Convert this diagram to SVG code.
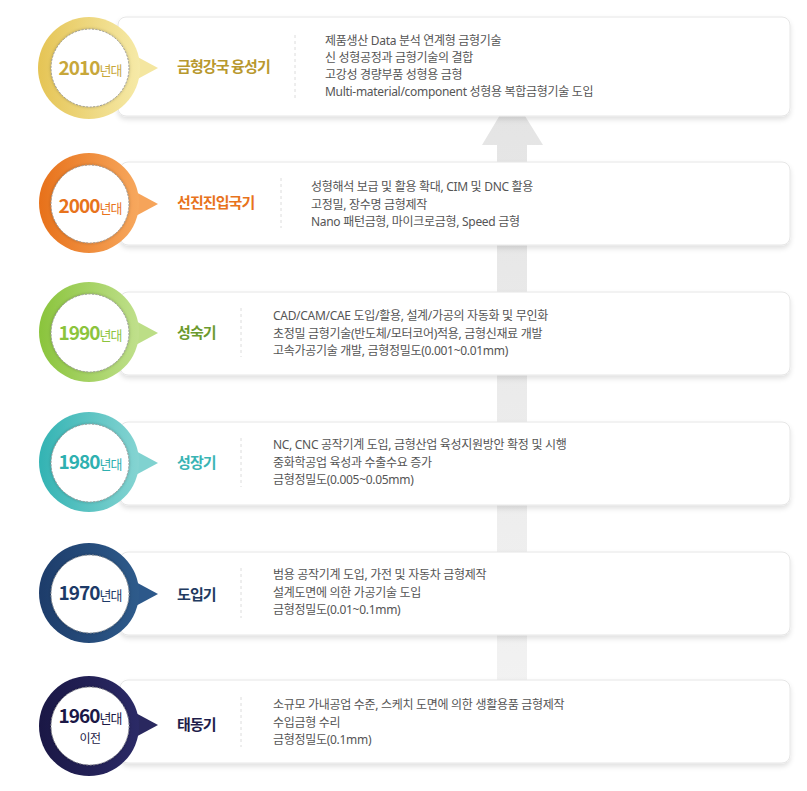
<svg xmlns="http://www.w3.org/2000/svg" width="807" height="791" viewBox="0 0 807 791">
<defs>
<style>
.card{fill:#fff;stroke:#e6e6e6;stroke-width:1;filter:url(#sh)}
.inner{fill:#fff;stroke:#9a9a9a;stroke-width:1;stroke-dasharray:2 1.5;filter:url(#ish)}
.yr{font-family:"Noto Sans CJK KR","Noto Sans",sans-serif;font-weight:700;font-size:19px;letter-spacing:-1px}
.yr .s{font-size:13px;font-weight:400;letter-spacing:-1px}
.ttl{font-family:"Noto Sans CJK KR",sans-serif;font-weight:700;font-size:15px;letter-spacing:-0.9px}
.desc{font-family:"Noto Sans","Noto Sans CJK KR",sans-serif;font-size:12px;fill:#555;letter-spacing:-0.3px}
.div{stroke:#dcdcdc;stroke-width:1;stroke-dasharray:3 3}
</style>
<filter id="sh" x="-5%" y="-20%" width="110%" height="150%"><feDropShadow dx="0" dy="3" stdDeviation="2.5" flood-color="#000" flood-opacity="0.12"/></filter>
<filter id="ish" x="-20%" y="-20%" width="140%" height="140%"><feDropShadow dx="0" dy="0" stdDeviation="1.5" flood-color="#000" flood-opacity="0.25"/></filter>
<linearGradient id="g1" x1="0" y1="0" x2="1" y2="0"><stop offset="0" stop-color="#e5c455"/><stop offset="1" stop-color="#f6eaa8"/></linearGradient>
<linearGradient id="g2" x1="0" y1="0" x2="1" y2="0"><stop offset="0" stop-color="#e7711a"/><stop offset="1" stop-color="#f7a85e"/></linearGradient>
<linearGradient id="g3" x1="0" y1="0" x2="1" y2="0"><stop offset="0" stop-color="#8ac43c"/><stop offset="1" stop-color="#c0e08c"/></linearGradient>
<linearGradient id="g4" x1="0" y1="0" x2="1" y2="0"><stop offset="0" stop-color="#33b3b3"/><stop offset="1" stop-color="#85d4d2"/></linearGradient>
<linearGradient id="g5" x1="0" y1="0" x2="1" y2="0"><stop offset="0" stop-color="#1d3c6a"/><stop offset="1" stop-color="#2e5b8b"/></linearGradient>
<linearGradient id="g6" x1="0" y1="0" x2="1" y2="0"><stop offset="0" stop-color="#1a1745"/><stop offset="1" stop-color="#2b2a66"/></linearGradient>
<linearGradient id="ga" x1="0" y1="0" x2="0" y2="1"><stop offset="0" stop-color="#e4e4e4"/><stop offset="1" stop-color="#f2f2f2"/></linearGradient>
</defs>
<rect width="807" height="791" fill="#fff"/>
<g id="connectors">
<path d="M512 95 L543 145 L527 145 L527 700 L497 700 L497 145 L482 145 Z" fill="url(#ga)"/>
</g>
<g id="n2010">
<rect class="card" x="118" y="17" width="672" height="99" rx="8"/>
<path d="M132 54 L158 68 L132 82 Z" fill="#f4e6a0"/>
<circle cx="89" cy="68" r="51" fill="url(#g1)"/>
<circle class="inner" cx="90" cy="68" r="39"/>
<text class="yr" x="90" y="75" text-anchor="middle" fill="#c8a73a">2010<tspan class="s">년대</tspan></text>
<text class="ttl" x="177" y="72" fill="#b8982e">금형강국 융성기</text>
<line class="div" x1="295" y1="35" x2="295" y2="98"/>
<text class="desc" x="325" y="44.5">제품생산 Data 분석 연계형 금형기술</text>
<text class="desc" x="325" y="61.5">신 성형공정과 금형기술의 결합</text>
<text class="desc" x="325" y="78.5">고강성 경량부품 성형용 금형</text>
<text class="desc" x="325" y="95.5">Multi-material/component 성형용 복합금형기술 도입</text>
</g>
<g id="n2000">
<rect class="card" x="120" y="162" width="670" height="83" rx="8"/>
<path d="M132 190 L158 204 L132 218 Z" fill="#f6a45a"/>
<circle cx="89" cy="203" r="50" fill="url(#g2)"/>
<circle class="inner" cx="90" cy="204" r="39"/>
<text class="yr" x="90" y="213" text-anchor="middle" fill="#e8731c">2000<tspan class="s">년대</tspan></text>
<text class="ttl" x="177" y="208" fill="#e8731c">선진진입국기</text>
<line class="div" x1="281" y1="178" x2="281" y2="228"/>
<text class="desc" x="311" y="191">성형해석 보급 및 활용 확대, CIM 및 DNC 활용</text>
<text class="desc" x="311" y="208.5">고정밀, 장수명 금형제작</text>
<text class="desc" x="311" y="226">Nano 패턴금형, 마이크로금형, Speed 금형</text>
</g>
<g id="n1990">
<rect class="card" x="120" y="292" width="670" height="83" rx="8"/>
<path d="M132 319 L158 333 L132 347 Z" fill="#bcde86"/>
<circle cx="89" cy="332" r="50" fill="url(#g3)"/>
<circle class="inner" cx="90" cy="333" r="39"/>
<text class="yr" x="90" y="340" text-anchor="middle" fill="#8cc43c">1990<tspan class="s">년대</tspan></text>
<text class="ttl" x="177" y="338" fill="#6c9a2e">성숙기</text>
<line class="div" x1="241" y1="308" x2="241" y2="357"/>
<text class="desc" x="273" y="320">CAD/CAM/CAE 도입/활용, 설계/가공의 자동화 및 무인화</text>
<text class="desc" x="273" y="337.5">초정밀 금형기술(반도체/모터코어)적용, 금형신재료 개발</text>
<text class="desc" x="273" y="355">고속가공기술 개발, 금형정밀도(0.001~0.01mm)</text>
</g>
<g id="n1980">
<rect class="card" x="120" y="422" width="670" height="83" rx="8"/>
<path d="M132 449 L158 463 L132 477 Z" fill="#80d2d0"/>
<circle cx="89" cy="462" r="50" fill="url(#g4)"/>
<circle class="inner" cx="90" cy="463" r="39"/>
<text class="yr" x="90" y="469" text-anchor="middle" fill="#2eb0b0">1980<tspan class="s">년대</tspan></text>
<text class="ttl" x="177" y="468" fill="#3ab4b4">성장기</text>
<line class="div" x1="241" y1="438" x2="241" y2="487"/>
<text class="desc" x="273" y="449">NC, CNC 공작기계 도입, 금형산업 육성지원방안 확정 및 시행</text>
<text class="desc" x="273" y="466.5">중화학공업 육성과 수출수요 증가</text>
<text class="desc" x="273" y="484">금형정밀도(0.005~0.05mm)</text>
</g>
<g id="n1970">
<rect class="card" x="120" y="552" width="670" height="83" rx="8"/>
<path d="M132 580 L158 594 L132 608 Z" fill="#2c588a"/>
<circle cx="89" cy="593" r="50" fill="url(#g5)"/>
<circle class="inner" cx="90" cy="594" r="39"/>
<text class="yr" x="90" y="600" text-anchor="middle" fill="#1d3a68">1970<tspan class="s">년대</tspan></text>
<text class="ttl" x="177" y="600" fill="#213a60">도입기</text>
<line class="div" x1="241" y1="568" x2="241" y2="618"/>
<text class="desc" x="273" y="579">범용 공작기계 도입, 가전 및 자동차 금형제작</text>
<text class="desc" x="273" y="596.5">설계도면에 의한 가공기술 도입</text>
<text class="desc" x="273" y="614">금형정밀도(0.01~0.1mm)</text>
</g>
<g id="n1960">
<rect class="card" x="120" y="680" width="670" height="83" rx="8"/>
<path d="M132 711 L158 725 L132 739 Z" fill="#29285f"/>
<circle cx="89" cy="726" r="50" fill="url(#g6)"/>
<circle class="inner" cx="90" cy="726" r="39"/>
<text class="yr" x="90" y="723" text-anchor="middle" fill="#1b1846">1960<tspan class="s">년대</tspan></text>
<text x="90" y="743" text-anchor="middle" font-family="Noto Sans CJK KR,sans-serif" font-size="12" letter-spacing="-0.5" fill="#1b1846">이전</text>
<text class="ttl" x="177" y="730" fill="#1e1d4a">태동기</text>
<line class="div" x1="241" y1="697" x2="241" y2="747"/>
<text class="desc" x="273" y="709">소규모 가내공업 수준, 스케치 도면에 의한 생활용품 금형제작</text>
<text class="desc" x="273" y="726.5">수입금형 수리</text>
<text class="desc" x="273" y="744">금형정밀도(0.1mm)</text>
</g>
</svg>
